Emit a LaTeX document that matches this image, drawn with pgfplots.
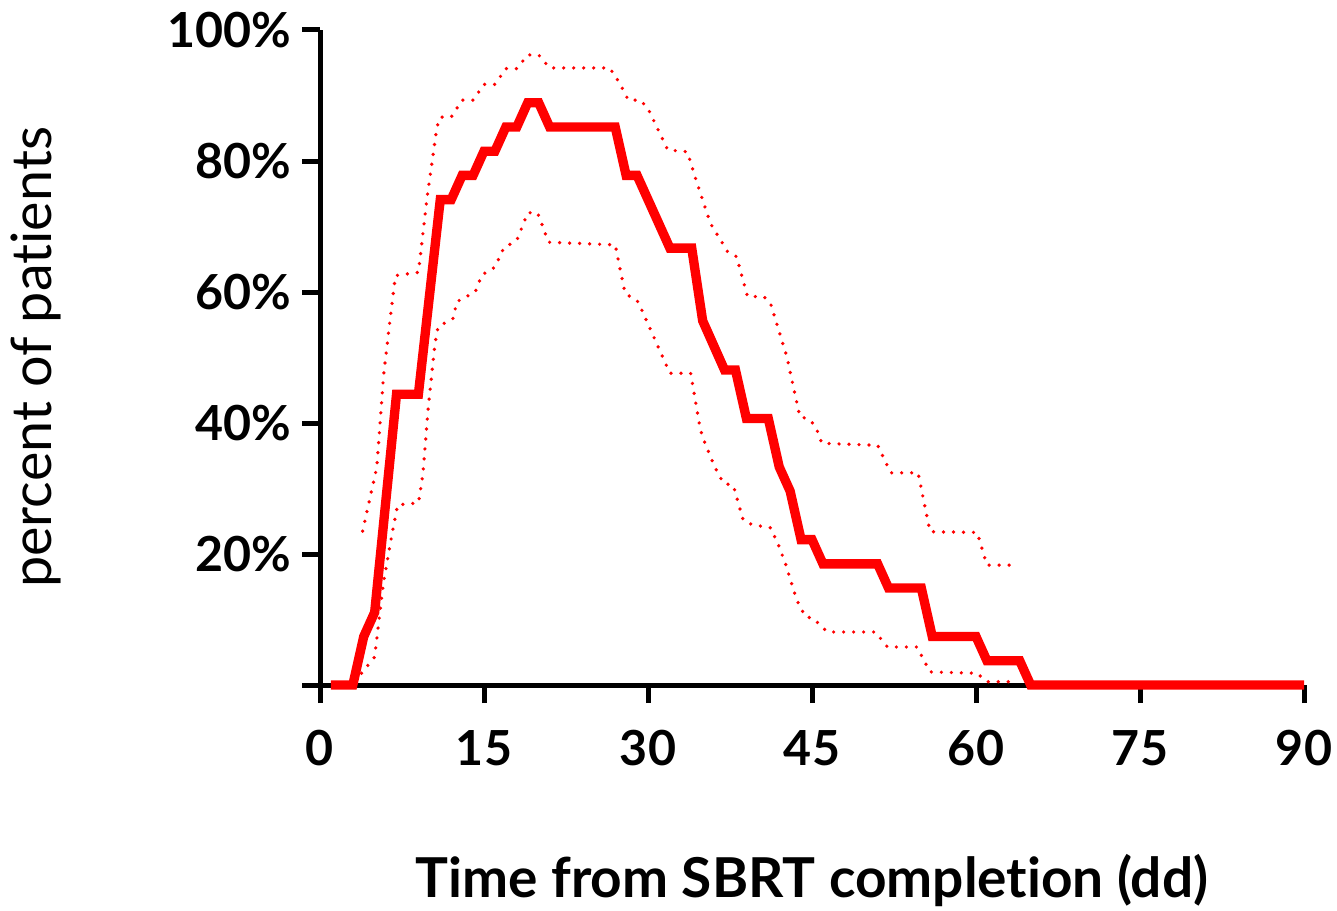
\documentclass[border=0pt]{standalone}
\usepackage{fontspec}
\setmainfont{Lato}[RawFeature=-liga]
\usepackage{pgfplots}
\pgfplotsset{compat=1.18}

\begin{document}
\begin{tikzpicture}
\begin{axis}[
  name=ax,
  scale only axis,
  width=295.2pt, height=196.5pt,
  xmin=0, xmax=90, ymin=0, ymax=100,
  axis x line=bottom, axis y line=left,
  axis line style={-, black, line width=1.5pt},
  every tick/.style={black, line width=1.5pt},
  tick align=outside,
  major tick length=5.4pt,
  xtick={0,15,...,90},
  xticklabels={0,15,30,45,60,75,90},
  ytick={0,20,...,100},
  yticklabels={,20\%,40\%,60\%,80\%,100\%},
  /pgf/number format/assume math mode=true,
  ticklabel style={font=\fontsize{14.5}{14.5}\selectfont\bfseries},
  xticklabel style={anchor=north, inner sep=0pt, yshift=-8pt},
  yticklabel style={anchor=east, inner sep=0pt, xshift=-3pt},
  xlabel={Time from SBRT completion (dd)},
  ylabel={percent of patients},
  xlabel style={font=\fontsize{16.5}{16.5}\selectfont\bfseries, at={(axis description cs:0.5,-0.3237)}, anchor=base},
  ylabel style={font=\fontsize{16.7}{16.7}\selectfont, at={(axis description cs:-0.2724,0.5)}, anchor=base},
  clip=false,
]
% upper confidence band
\addplot[red, line width=1.1pt, line cap=round, dash pattern=on 0pt off 3pt] table {
3.9 23.5
5.2 33.3
5.8 47
6.4 55.7
6.9 62.5
9 63
9.8 74.5
10.7 85.2
11 86.7
12 86.7
13 89.3
14 89.3
15 91.7
16 91.7
17 94.1
18 94.1
19 96.2
20 96.2
21 94.2
26.5 94.2
27.4 91.9
28.2 89.3
29.3 89.3
30 88
31.8 81.7
33.6 81.4
34.3 77.6
35.7 70.5
37.3 66.1
38.1 65.4
39.1 59.3
40.6 59.3
41.2 58.3
42.7 50.1
43.9 40.9
44.6 40.7
45.3 39.6
45.9 36.9
51 36.6
52.2 32.4
54.7 32.4
55.8 23.4
60.1 23.3
61 18.3
63.6 18.3
};
% lower confidence band
\addplot[red, line width=1.1pt, line cap=round, dash pattern=on 0pt off 3pt] table {
3.8 1.8
5.0 4.3
5.8 15.6
6.6 23.2
7.1 27.5
9.0 27.8
9.4 32
9.9 42.4
10.5 51.9
10.8 54.7
12.2 56
12.5 58.5
14.2 60
14.8 62.6
16 63.8
16.8 66.7
18 67.9
19 72.1
19.9 72.1
20.9 67.6
27 67.2
27.9 59.8
29.1 58.5
32 47.6
33.9 47.6
34.8 38.9
35.2 37
36.1 33.3
36.9 30.8
37.8 30.5
38.7 25.2
39.5 24.5
41.2 24
41.9 21.5
42.6 18.4
43.6 13
44.4 10.4
45.1 10.2
46.4 8.1
50.8 8.1
51.9 5.8
54.6 5.8
55.8 2
60.1 1.8
61 0.5
63.6 0.5
};
% main curve
\addplot[red, line width=2.8pt] table {
1 0
3 0
4 7.4
5 11.1
7 44.4
9 44.4
11 74.1
12 74.1
13 77.8
14 77.8
15 81.5
16 81.5
17 85.2
18 85.2
19 88.9
20 88.9
21 85.2
27 85.2
28 77.8
29 77.8
32 66.7
34 66.7
35 55.6
37 48.1
38 48.1
39 40.7
41 40.7
42 33.3
43 29.6
44 22.2
45 22.2
46 18.5
51 18.5
52 14.8
55 14.8
56 7.4
60 7.4
61 3.7
64 3.7
65 0
90 0
};
\end{axis}
\pgfresetboundingbox
\path[use as bounding box] ([shift={(-96pt,-67.5pt)}]ax.south west) rectangle ([shift={(9.9pt,9pt)}]ax.north east);
\end{tikzpicture}
\end{document}
